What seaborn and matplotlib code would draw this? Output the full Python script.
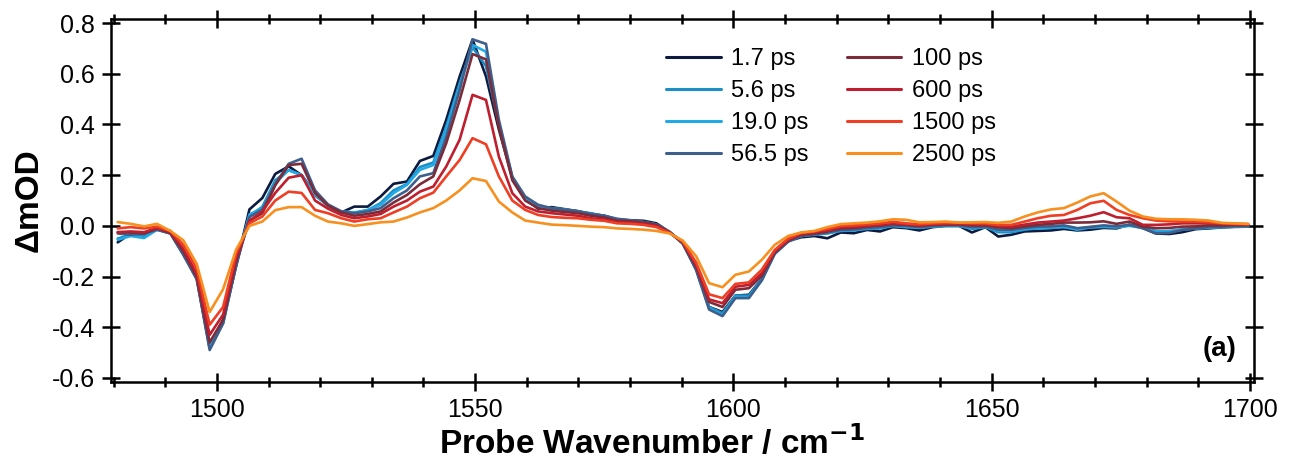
import numpy as np
import pandas as pd
import seaborn as sns
import matplotlib
matplotlib.use("Agg")
import matplotlib.pyplot as plt
from matplotlib.ticker import MultipleLocator

# probe wavenumbers (cm-1)
wavenumber = [
    1480.8, 1483.3, 1485.9, 1488.4, 1491.0, 1493.5, 1496.1, 1498.6, 1501.2, 1503.7,
    1506.3, 1508.8, 1511.3, 1513.9, 1516.4, 1519.0, 1521.5, 1524.1, 1526.6, 1529.2,
    1531.7, 1534.2, 1536.8, 1539.3, 1541.9, 1544.4, 1547.0, 1549.5, 1552.1, 1554.6,
    1557.2, 1559.7, 1562.2, 1564.8, 1567.3, 1569.9, 1572.4, 1575.0, 1577.5, 1580.1,
    1582.6, 1585.1, 1587.7, 1590.2, 1592.8, 1595.3, 1597.9, 1600.4, 1603.0, 1605.5,
    1608.0, 1610.6, 1613.1, 1615.7, 1618.2, 1620.8, 1623.3, 1625.9, 1628.4, 1630.9,
    1633.5, 1636.0, 1638.6, 1641.1, 1643.7, 1646.2, 1648.8, 1651.3, 1653.8, 1656.4,
    1658.9, 1661.5, 1664.0, 1666.6, 1669.1, 1671.7, 1674.2, 1676.7, 1679.3, 1681.8,
    1684.4, 1686.9, 1689.5, 1692.0, 1694.6, 1697.1, 1699.7,
]

delays = ["1.7 ps", "5.6 ps", "19.0 ps", "56.5 ps", "100 ps", "600 ps", "1500 ps", "2500 ps"]
colors = ["#0c1a3f", "#1b8ec6", "#22aae6", "#3e5f8c", "#7b2c3a", "#be1e2d", "#ee3e23", "#f7901e"]

d_1p7 = [
    -0.065, -0.03, -0.035, -0.01, -0.025, -0.11, -0.21, -0.48, -0.37, -0.16,
    0.065, 0.11, 0.205, 0.235, 0.2, 0.13, 0.08, 0.053, 0.076, 0.076,
    0.116, 0.166, 0.175, 0.256, 0.276, 0.418, 0.589, 0.735, 0.59, 0.38,
    0.19, 0.105, 0.068, 0.074, 0.066, 0.058, 0.046, 0.04, 0.025, 0.022,
    0.02, 0.01, -0.025, -0.07, -0.17, -0.32, -0.34, -0.275, -0.272, -0.21,
    -0.1, -0.06, -0.045, -0.04, -0.049, -0.026, -0.029, -0.016, -0.022, -0.005,
    -0.009, -0.018, -0.005, 0.0, 0.0, -0.026, -0.005, -0.042, -0.035, -0.022,
    -0.02, -0.018, -0.012, -0.018, -0.015, -0.008, -0.01, 0.005, -0.009, -0.03,
    -0.032, -0.025, -0.013, -0.01, -0.006, -0.004, -0.003,
]
d_5p6 = [
    -0.05, -0.035, -0.04, -0.015, -0.03, -0.11, -0.2, -0.48, -0.38, -0.15,
    0.04, 0.075, 0.18, 0.22, 0.2, 0.12, 0.08, 0.055, 0.05, 0.062,
    0.09, 0.14, 0.165, 0.232, 0.25, 0.39, 0.563, 0.705, 0.63, 0.40,
    0.19, 0.11, 0.075, 0.07, 0.065, 0.057, 0.048, 0.04, 0.025, 0.02,
    0.015, 0.005, -0.025, -0.068, -0.17, -0.32, -0.345, -0.275, -0.275, -0.21,
    -0.11, -0.06, -0.04, -0.035, -0.03, -0.02, -0.018, -0.012, -0.01, 0.0,
    -0.005, -0.008, -0.003, 0.0, 0.0, -0.012, -0.005, -0.025, -0.025, -0.015,
    -0.01, -0.008, -0.005, -0.012, -0.005, -0.003, -0.005, 0.003, -0.005, -0.02,
    -0.022, -0.015, -0.01, -0.008, -0.005, -0.003, -0.002,
]
d_19 = [
    -0.055, -0.04, -0.048, -0.015, -0.028, -0.11, -0.2, -0.48, -0.385, -0.155,
    0.045, 0.07, 0.17, 0.22, 0.2, 0.125, 0.08, 0.057, 0.053, 0.063,
    0.083, 0.129, 0.162, 0.221, 0.24, 0.379, 0.55, 0.714, 0.687, 0.405,
    0.188, 0.109, 0.076, 0.068, 0.064, 0.056, 0.05, 0.038, 0.026, 0.02,
    0.014, 0.005, -0.025, -0.068, -0.17, -0.325, -0.352, -0.28, -0.282, -0.215,
    -0.11, -0.062, -0.04, -0.033, -0.028, -0.018, -0.016, -0.01, -0.008, 0.0,
    -0.004, -0.006, -0.002, 0.0, 0.0, -0.008, -0.004, -0.018, -0.02, -0.012,
    -0.008, -0.006, -0.004, -0.015, -0.006, -0.004, -0.006, 0.0, -0.008, -0.022,
    -0.02, -0.014, -0.01, -0.007, -0.004, -0.002, -0.001,
]
d_56 = [
    -0.03, -0.035, -0.03, -0.015, -0.03, -0.115, -0.21, -0.49, -0.385, -0.16,
    0.035, 0.065, 0.165, 0.245, 0.265, 0.14, 0.085, 0.057, 0.05, 0.057,
    0.07, 0.109, 0.14, 0.195, 0.208, 0.352, 0.536, 0.736, 0.718, 0.418,
    0.195, 0.116, 0.083, 0.07, 0.064, 0.058, 0.048, 0.04, 0.028, 0.022,
    0.016, 0.006, -0.024, -0.068, -0.175, -0.33, -0.356, -0.285, -0.285, -0.215,
    -0.11, -0.062, -0.04, -0.033, -0.026, -0.016, -0.014, -0.008, -0.005, 0.002,
    0.0, -0.004, 0.0, 0.002, 0.002, -0.005, -0.003, -0.015, -0.016, -0.008,
    -0.003, -0.002, 0.002, -0.009, -0.004, 0.002, -0.002, 0.004, -0.009, -0.029,
    -0.028, -0.016, -0.01, -0.005, -0.003, -0.001, 0.0,
]
d_100 = [
    -0.025, -0.025, -0.03, -0.01, -0.028, -0.1, -0.2, -0.46, -0.37, -0.14,
    0.02, 0.05, 0.16, 0.24, 0.245, 0.13, 0.08, 0.053, 0.04, 0.047,
    0.057, 0.092, 0.122, 0.164, 0.195, 0.326, 0.497, 0.678, 0.657, 0.39,
    0.18, 0.10, 0.07, 0.06, 0.055, 0.05, 0.04, 0.033, 0.02, 0.018,
    0.012, 0.003, -0.026, -0.066, -0.16, -0.30, -0.32, -0.252, -0.246, -0.197,
    -0.105, -0.058, -0.035, -0.03, -0.022, -0.01, -0.008, -0.002, 0.002, 0.008,
    0.004, 0.0, 0.004, 0.006, 0.006, 0.002, 0.002, -0.006, -0.009, -0.002,
    0.004, 0.008, 0.013, 0.013, 0.014, 0.018, 0.008, 0.017, -0.003, -0.009,
    -0.008, -0.003, -0.002, 0.002, 0.002, 0.003, 0.003,
]
d_600 = [
    -0.025, -0.022, -0.025, -0.008, -0.025, -0.09, -0.19, -0.43, -0.35, -0.13,
    0.02, 0.057, 0.13, 0.19, 0.2, 0.1, 0.068, 0.043, 0.03, 0.037,
    0.047, 0.076, 0.1, 0.135, 0.155, 0.234, 0.34, 0.517, 0.497, 0.273,
    0.129, 0.076, 0.057, 0.05, 0.045, 0.04, 0.03, 0.025, 0.015, 0.012,
    0.008, 0.0, -0.027, -0.064, -0.155, -0.29, -0.305, -0.24, -0.233, -0.187,
    -0.1, -0.055, -0.032, -0.026, -0.018, -0.006, -0.004, 0.0, 0.004, 0.01,
    0.006, 0.002, 0.006, 0.008, 0.008, 0.006, 0.006, 0.0, -0.003, 0.005,
    0.013, 0.017, 0.021, 0.03, 0.04, 0.054, 0.034, 0.03, 0.004, 0.004,
    0.006, 0.01, 0.01, 0.01, 0.008, 0.005, 0.004,
]
d_1500 = [
    -0.01, -0.005, -0.01, -0.003, -0.02, -0.075, -0.17, -0.39, -0.32, -0.11,
    0.01, 0.037, 0.1, 0.135, 0.13, 0.063, 0.05, 0.03, 0.017, 0.026,
    0.03, 0.053, 0.076, 0.109, 0.131, 0.195, 0.26, 0.346, 0.322, 0.195,
    0.10, 0.063, 0.043, 0.035, 0.032, 0.03, 0.024, 0.02, 0.01, 0.008,
    0.004, -0.005, -0.028, -0.062, -0.145, -0.27, -0.285, -0.229, -0.223, -0.173,
    -0.095, -0.05, -0.028, -0.022, -0.012, 0.0, 0.002, 0.006, 0.01, 0.016,
    0.01, 0.006, 0.01, 0.012, 0.012, 0.01, 0.01, 0.004, 0.004, 0.017,
    0.03, 0.04, 0.043, 0.063, 0.089, 0.099, 0.063, 0.043, 0.03, 0.021,
    0.018, 0.017, 0.017, 0.014, 0.01, 0.008, 0.007,
]
d_2500 = [
    0.015, 0.008, -0.002, 0.008, -0.02, -0.057, -0.15, -0.34, -0.25, -0.095,
    0.0, 0.017, 0.062, 0.074, 0.074, 0.04, 0.017, 0.01, 0.0, 0.007,
    0.014, 0.017, 0.033, 0.053, 0.07, 0.10, 0.14, 0.188, 0.177, 0.096,
    0.053, 0.021, 0.013, 0.005, 0.003, 0.0, -0.003, -0.005, -0.01, -0.012,
    -0.015, -0.02, -0.03, -0.058, -0.12, -0.226, -0.242, -0.193, -0.18, -0.134,
    -0.075, -0.04, -0.026, -0.02, -0.005, 0.007, 0.01, 0.013, 0.018, 0.026,
    0.024, 0.014, 0.015, 0.017, 0.013, 0.014, 0.015, 0.012, 0.017, 0.037,
    0.053, 0.065, 0.07, 0.092, 0.116, 0.129, 0.096, 0.06, 0.037, 0.028,
    0.026, 0.026, 0.024, 0.021, 0.012, 0.01, 0.008,
]

series = [d_1p7, d_5p6, d_19, d_56, d_100, d_600, d_1500, d_2500]

frames = []
for name, vals in zip(delays, series):
    frames.append(pd.DataFrame({"wn": wavenumber, "dOD": vals, "delay": name}))
df = pd.concat(frames, ignore_index=True)

sns.set_style("ticks")
plt.rcParams["font.family"] = ["Liberation Sans", "DejaVu Sans"]
plt.rcParams["axes.unicode_minus"] = False
plt.rcParams["text.color"] = "black"
plt.rcParams["axes.labelcolor"] = "black"
plt.rcParams["xtick.color"] = "black"
plt.rcParams["ytick.color"] = "black"
plt.rcParams["axes.edgecolor"] = "black"

fig = plt.figure(figsize=(12.91, 4.65), dpi=100)
ax = fig.add_axes([0.086, 0.1785, 0.8853, 0.7805])

sns.lineplot(data=df, x="wn", y="dOD", hue="delay", hue_order=delays,
             palette=colors, linewidth=1.9, sort=False, estimator=None,
             legend=False, ax=ax)

ax.set_xlim(1479.5, 1700.8)
ax.set_ylim(-0.616, 0.816)
ax.xaxis.set_major_locator(MultipleLocator(50))
ax.xaxis.set_minor_locator(MultipleLocator(10))
ax.set_yticks([0.8, 0.6, 0.4, 0.2, 0.0, -0.2, -0.4, -0.6])
ax.set_yticklabels(["0.8", "0.6", "0.4", "0.2", "0.0", "-0.2", "-0.4", "-0.6"])

for s in ax.spines.values():
    s.set_linewidth(1.8)
    s.set_color("black")
ax.tick_params(which="major", direction="inout", length=13, width=1.8,
               top=True, right=True, labelsize=18, pad=5, colors="black")
ax.tick_params(which="minor", direction="inout", length=7, width=1.8,
               top=True, right=True, colors="black")

ax.set_xlabel("Probe Wavenumber / cm$^{\\mathbf{-1}}$", fontsize=24, fontweight="bold")
ax.xaxis.set_label_coords(0.473, -0.118)
ax.set_ylabel("ΔmOD", fontsize=24, fontweight="bold", labelpad=5)

ax.text(0.985, 0.09, "(a)", transform=ax.transAxes, ha="right", va="center",
        fontsize=20, fontweight="bold")

handles = [plt.Line2D([], [], color=c, lw=2.2) for c in colors]
ax.legend(handles, delays, loc="upper left", bbox_to_anchor=(0.486, 0.92),
          ncol=2, frameon=False, fontsize=17, handlelength=2.3,
          handletextpad=0.45, columnspacing=1.6, labelspacing=0.42,
          borderpad=0, borderaxespad=0)

fig.savefig("out.png", dpi=100)
